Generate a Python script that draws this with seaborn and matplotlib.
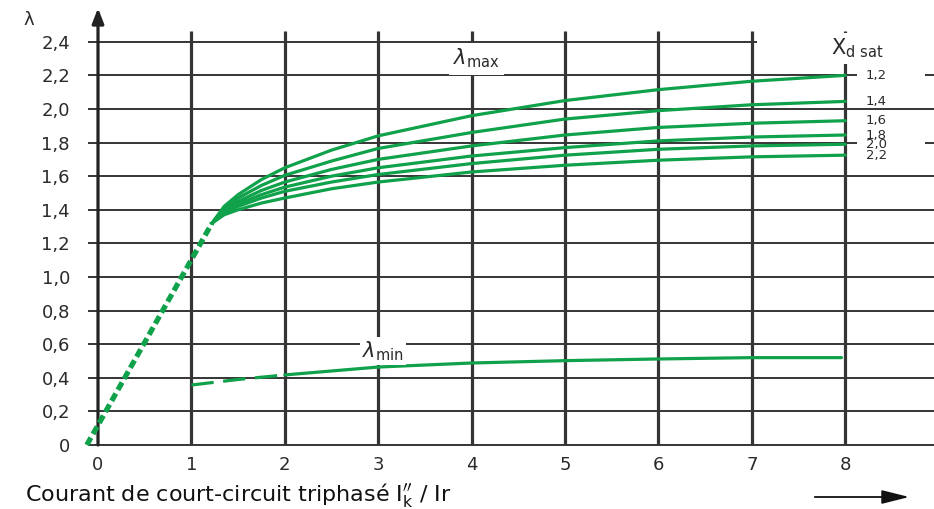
import pandas as pd
import seaborn as sns
import matplotlib
matplotlib.use("Agg")
import matplotlib.pyplot as plt
from matplotlib.patches import Rectangle, FancyArrowPatch

# X''d sat curves (lambda max)
xd_sat_labels = ["1,2", "1,4", "1,6", "1,8", "2,0", "2,2"]
x_max = [1.22, 1.35, 1.5, 1.75, 2, 2.5, 3, 4, 5, 6, 7, 8]
lam_max_12 = [1.32, 1.42, 1.49, 1.58, 1.65, 1.755, 1.84, 1.96, 2.05, 2.115, 2.165, 2.20]
lam_max_14 = [1.32, 1.41, 1.47, 1.545, 1.605, 1.69, 1.765, 1.86, 1.94, 1.99, 2.025, 2.045]
lam_max_16 = [1.32, 1.40, 1.45, 1.515, 1.565, 1.64, 1.70, 1.78, 1.845, 1.89, 1.915, 1.93]
lam_max_18 = [1.32, 1.39, 1.435, 1.49, 1.535, 1.60, 1.65, 1.72, 1.77, 1.81, 1.833, 1.845]
lam_max_20 = [1.32, 1.38, 1.42, 1.47, 1.51, 1.565, 1.61, 1.675, 1.725, 1.76, 1.78, 1.79]
lam_max_22 = [1.32, 1.37, 1.40, 1.44, 1.47, 1.525, 1.565, 1.625, 1.665, 1.695, 1.715, 1.725]

# common dotted rise
ramp_x = [-0.12, 1.22]
ramp_y = [0.0, 1.32]

# lambda min
min_dash_x = [1.0, 1.5, 2.0]
min_dash_y = [0.357, 0.39, 0.417]
min_x = [2, 3, 4, 5, 6, 7, 7.96]
min_y = [0.417, 0.464, 0.488, 0.502, 0.512, 0.52, 0.52]

y_ticks = [0, 0.2, 0.4, 0.6, 0.8, 1.0, 1.2, 1.4, 1.6, 1.8, 2.0, 2.2, 2.4]
y_tick_labels = ["0", "0,2", "0,4", "0,6", "0,8", "1,0", "1,2", "1,4",
                 "1,6", "1,8", "2,0", "2,2", "2,4"]
x_ticks = [0, 1, 2, 3, 4, 5, 6, 7, 8]

GREEN = "#10a14b"
GRID = "#353535"
TXT = "#2a2a2a"

series = [lam_max_12, lam_max_14, lam_max_16, lam_max_18, lam_max_20, lam_max_22]
df = pd.concat([pd.DataFrame({"x": x_max, "lam": s, "xd": lab})
                for s, lab in zip(series, xd_sat_labels)])

sns.set_style("white")
plt.rcParams["font.family"] = ["DejaVu Sans"]

W, H = 934, 509
fig = plt.figure(figsize=(W / 100, H / 100), dpi=100)
ax = fig.add_axes([88 / W, 64 / H, 846 / W, 435 / H])
ax.set_xlim(-0.107, 8.95)
ax.set_ylim(0, 2.589)
for sp in ax.spines.values():
    sp.set_visible(False)

# grid
for y in y_ticks:
    right = 7.05 if y == 2.4 else 8.95
    ax.hlines(y, -0.107, right, color=GRID, lw=1.4, zorder=1, clip_on=False)
for x in x_ticks[1:]:
    ax.vlines(x, 0, 2.464, color=GRID, lw=2.3, zorder=1)
ax.annotate("", xy=(0, 2.60), xytext=(0, 0), zorder=2, annotation_clip=False,
            arrowprops=dict(arrowstyle="-|>,head_length=0.9,head_width=0.35",
                            color="#222222", lw=2.3, shrinkA=0, shrinkB=0))

# curves
for lab in xd_sat_labels:
    sns.lineplot(data=df[df["xd"] == lab], x="x", y="lam", ax=ax, color=GREEN,
                 lw=2.3, zorder=3, legend=False)
sns.lineplot(x=ramp_x, y=ramp_y, ax=ax, color=GREEN, lw=3.8,
             linestyle=(0, (1.6, 0.8)), zorder=3, clip_on=False)
sns.lineplot(x=min_dash_x, y=min_dash_y, ax=ax, color=GREEN, lw=2.3,
             linestyle=(0, (7, 3)), zorder=3)
sns.lineplot(x=min_x, y=min_y, ax=ax, color=GREEN, lw=2.3, zorder=3)

ax.set_xlabel("")
ax.set_ylabel("")
ax.set_xticks(x_ticks)
ax.set_xticklabels([str(x) for x in x_ticks])
ax.set_yticks(y_ticks)
ax.set_yticklabels(y_tick_labels)
ax.tick_params(length=0, labelsize=13, colors=TXT)
ax.tick_params(axis="y", pad=13)
ax.tick_params(axis="x", pad=8)

wbox = dict(facecolor="white", edgecolor="none", pad=3)
ax.text(4.05, 2.30, r"$\lambda_{\mathrm{max}}$", fontsize=15, color=TXT,
        ha="center", va="center", bbox=wbox, zorder=4)
ax.text(3.05, 0.56, r"$\lambda_{\mathrm{min}}$", fontsize=15, color=TXT,
        ha="center", va="center", zorder=4,
        bbox=dict(facecolor="white", edgecolor="none",
                  boxstyle="square,pad=0.12"))
ax.text(8.13, 2.36, r"$\mathrm{X}_{\mathrm{d\ sat}}$", fontsize=15, color=TXT,
        ha="center", va="center", bbox=wbox, zorder=4)

# white patches hide the grid behind the end labels, then the labels on top
for s in series:
    ax.add_patch(Rectangle((8.13, s[-1] - 0.03), 0.72, 0.06, facecolor="white",
                           edgecolor="none", zorder=4))
for lab, s in zip(xd_sat_labels, series):
    ax.text(8.22, s[-1], lab, fontsize=9.5, color=TXT, ha="left", va="center",
            zorder=5)

fig.text(23 / W, 1 - 20 / H, "λ", fontsize=13, color=TXT, ha="left", va="center")
fig.text(25 / W, 1 - 495 / H,
         r"Courant de court-circuit triphasé $\mathrm{I}^{\prime\prime}_{\mathrm{k}}$ / Ir",
         fontsize=16, color="#111111", ha="left", va="center")
fig.add_artist(FancyArrowPatch(
    (812 / W, 1 - 497 / H), (912 / W, 1 - 497 / H), transform=fig.transFigure,
    arrowstyle="-|>,head_length=1.4,head_width=0.35", color="#111111", lw=1.3,
    mutation_scale=12))

fig.savefig("out.png", dpi=100)
